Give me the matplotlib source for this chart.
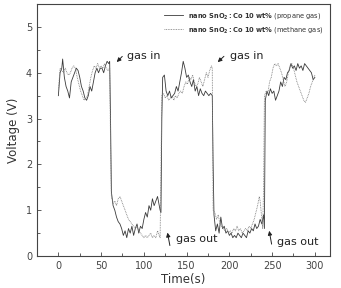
import matplotlib
matplotlib.use("Agg")
import matplotlib.pyplot as plt

# propane gas (solid line)
t_prop = [0, 2, 4, 5, 7, 9, 11, 13, 15, 17, 19, 21, 23, 25, 27, 29, 31, 33, 35, 37,
          39, 41, 43, 45, 47, 49, 51, 53, 55, 57, 59, 60, 61, 62, 64, 66, 68, 70, 72, 74,
          76, 78, 80, 82, 84, 86, 88, 90, 92, 94, 96, 98, 100, 102, 104, 106, 108, 110, 112, 114,
          116, 118, 119, 120, 121, 122, 124, 126, 128, 130, 132, 134, 136, 138, 140, 142, 144, 146, 148, 150,
          152, 154, 156, 158, 160, 162, 164, 166, 168, 170, 172, 174, 176, 178, 180, 181, 182, 184, 186, 188,
          190, 192, 194, 196, 198, 200, 202, 204, 206, 208, 210, 212, 214, 216, 218, 220, 222, 224, 226, 228,
          230, 232, 234, 236, 238, 240, 241, 242, 244, 246, 248, 250, 252, 254, 256, 258, 260, 262, 264, 266,
          268, 270, 272, 274, 276, 278, 280, 282, 284, 286, 288, 290, 292, 294, 296, 298, 300]
v_prop = [3.5, 4.0, 4.1, 4.3, 3.9, 3.7, 3.6, 3.45, 3.8, 3.9, 4.0, 4.1, 4.05, 3.9, 3.7, 3.6, 3.45, 3.4, 3.5, 3.7,
          3.6, 3.8, 4.0, 4.1, 4.0, 4.1, 4.1, 4.0, 4.15, 4.25, 4.2, 4.25, 3.0, 1.4, 1.1, 1.0, 0.85, 0.75, 0.7, 0.6,
          0.45, 0.55, 0.4, 0.6, 0.5, 0.65, 0.45, 0.6, 0.7, 0.5, 0.65, 0.6, 0.8, 0.95, 0.85, 1.1, 1.0, 1.25, 1.1, 1.2,
          1.3, 1.1, 1.0, 0.95, 3.0, 3.9, 3.95, 3.6, 3.5, 3.6, 3.45, 3.5, 3.55, 3.7, 3.6, 3.8, 4.0, 4.25, 4.1, 3.9,
          3.95, 3.8, 3.7, 3.85, 3.6, 3.7, 3.5, 3.65, 3.55, 3.5, 3.6, 3.55, 3.5, 3.55, 3.5, 2.0, 0.9, 0.55, 0.7, 0.5,
          0.85, 0.6, 0.65, 0.5, 0.55, 0.45, 0.5, 0.4, 0.45, 0.4, 0.5, 0.45, 0.4, 0.5, 0.45, 0.4, 0.55, 0.5, 0.6, 0.55,
          0.7, 0.6, 0.65, 0.8, 0.7, 0.9, 0.6, 3.4, 3.6, 3.5, 3.65, 3.55, 3.6, 3.4, 3.5, 3.6, 3.8, 3.7, 3.9, 3.85,
          4.0, 4.05, 4.2, 4.1, 4.15, 4.05, 4.2, 4.1, 4.15, 4.05, 4.2, 4.15, 4.1, 4.05, 4.0, 3.85, 3.9]

# methane gas (dotted line)
t_meth = [0, 2, 4, 6, 8, 10, 12, 14, 16, 18, 20, 22, 24, 26, 28, 30, 32, 34, 36, 38,
          40, 42, 44, 46, 48, 50, 52, 54, 56, 58, 60, 61, 62, 64, 66, 68, 70, 72, 74, 76,
          78, 80, 82, 84, 86, 88, 90, 92, 94, 96, 98, 100, 102, 104, 106, 108, 110, 112, 114, 116,
          118, 119, 120, 121, 123, 125, 127, 129, 131, 133, 135, 137, 139, 141, 143, 145, 147, 149, 151, 153,
          155, 157, 159, 161, 163, 165, 167, 169, 171, 173, 175, 177, 179, 180, 181, 183, 185, 187, 189, 191,
          193, 195, 197, 199, 201, 203, 205, 207, 209, 211, 213, 215, 217, 219, 221, 223, 225, 227, 229, 231,
          233, 235, 236, 238, 239, 240, 241, 243, 245, 247, 249, 251, 253, 255, 257, 259, 261, 263, 265, 267,
          269, 271, 273, 275, 277, 279, 281, 283, 285, 287, 289, 291, 293, 295, 297, 299, 300]
v_meth = [3.6, 4.1, 4.05, 4.0, 4.1, 4.0, 3.95, 4.0, 4.1, 4.15, 4.1, 3.9, 3.75, 3.6, 3.5, 3.4, 3.45, 3.5, 3.7, 3.9,
          4.05, 4.15, 4.1, 4.2, 4.1, 4.15, 4.1, 4.2, 4.1, 4.05, 4.1, 2.5, 1.3, 1.15, 1.2, 1.1, 1.25, 1.3, 1.2, 1.1,
          1.0, 0.9, 0.8, 0.75, 0.7, 0.65, 0.6, 0.65, 0.55, 0.5, 0.45, 0.4, 0.45, 0.4, 0.45, 0.5, 0.4, 0.45, 0.4, 0.55,
          0.45, 0.4, 2.0, 3.5, 3.55, 3.45, 3.5, 3.4, 3.45, 3.5, 3.4, 3.5, 3.45, 3.55, 3.6, 3.55, 3.7, 3.8, 3.75, 3.9,
          3.85, 3.95, 3.8, 3.7, 3.75, 3.9, 3.8, 3.7, 3.85, 4.0, 3.9, 4.05, 4.15, 4.1, 1.0, 0.95, 0.8, 0.9, 0.7, 0.65,
          0.6, 0.55, 0.6, 0.5, 0.55, 0.5, 0.6, 0.55, 0.65, 0.55, 0.6, 0.5, 0.55, 0.6, 0.55, 0.65, 0.6, 0.7, 0.8, 0.95,
          1.1, 1.3, 1.2, 0.8, 0.6, 1.5, 3.5, 3.6, 3.55, 3.8, 3.9, 4.1, 4.2, 4.15, 4.2, 4.1, 4.0, 3.85, 3.7, 3.8,
          4.0, 4.15, 4.2, 4.1, 3.95, 3.8, 3.7, 3.6, 3.5, 3.4, 3.35, 3.45, 3.55, 3.7, 3.8, 3.9, 3.95]

labels = [r"$\bf{nano\ SnO_2{:}Co\ 10\ wt\%}$ (propane gas)",
          r"$\bf{nano\ SnO_2{:}Co\ 10\ wt\%}$ (methane gas)"]

fig = plt.figure(figsize=(3.41, 2.88), dpi=100)
ax = fig.add_axes([0.1085, 0.111, 0.86, 0.875])

ax.plot(t_prop, v_prop, color="#3a3a3a", lw=0.6, label=labels[0])
ax.plot(t_meth, v_meth, color="#7a7a7a", lw=0.6, ls=(0, (1, 1)), label=labels[1])

ax.set_xlim(-25, 318)
ax.set_ylim(0, 5.5)
ax.set_xticks([0, 50, 100, 150, 200, 250, 300])
ax.set_xticks([25, 75, 125, 175, 225, 275], minor=True)
ax.set_yticks([0, 1, 2, 3, 4, 5])
ax.set_yticks([0.5, 1.5, 2.5, 3.5, 4.5], minor=True)
ax.tick_params(which="both", direction="in", labelsize=7, colors="#444444")
ax.tick_params(which="major", length=3, width=0.6)
ax.tick_params(which="minor", length=2, width=0.6)
for s in ax.spines.values():
    s.set_color("#444444")
    s.set_linewidth(0.8)

ax.set_xlabel("Time(s)", fontsize=8.5, color="#333333", labelpad=1.5)
ax.set_ylabel("Voltage (V)", fontsize=8.5, color="#333333", labelpad=4)

leg = ax.legend(loc="upper right", frameon=False, fontsize=4.8, handlelength=2.8,
                borderaxespad=0.6, labelspacing=0.6)
for txt in leg.get_texts():
    txt.set_color("#333333")

arrow = dict(arrowstyle="-|>", color="#222222", lw=0.7, mutation_scale=6)
ax.annotate("", xy=(66, 4.19), xytext=(77, 4.4), arrowprops=arrow)
ax.text(80, 4.36, "gas in", fontsize=8, va="center", color="#222222")
ax.annotate("", xy=(184, 4.19), xytext=(196, 4.4), arrowprops=arrow)
ax.text(201, 4.36, "gas in", fontsize=8, va="center", color="#222222")
ax.annotate("", xy=(127, 0.57), xytext=(131, 0.17), arrowprops=arrow)
ax.text(137, 0.37, "gas out", fontsize=8, va="center", color="#222222")
ax.annotate("", xy=(246, 0.61), xytext=(250, 0.2), arrowprops=arrow)
ax.text(256, 0.31, "gas out", fontsize=8, va="center", color="#222222")

fig.savefig("out.png", dpi=100)
